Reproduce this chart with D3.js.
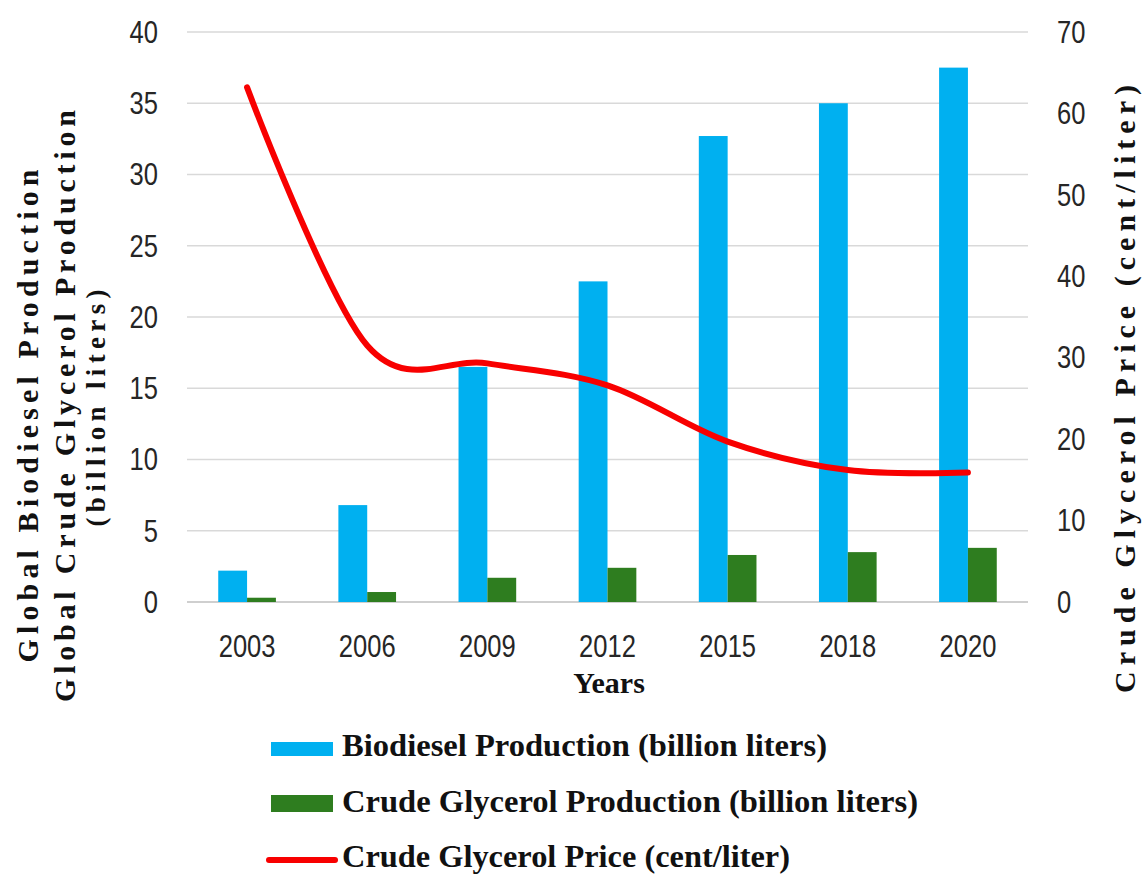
<!DOCTYPE html>
<html>
<head>
<meta charset="utf-8">
<script src="https://cdn.jsdelivr.net/npm/d3@7"></script>
<style>
  body { margin: 0; background: #fff; }
  .tick text { font-family: "Liberation Sans", "Open Sans", sans-serif; font-size: 32px; fill: #262626; }
  .serif { font-family: "Liberation Serif", "DejaVu Serif", serif; font-weight: bold; fill: #111; }
</style>
</head>
<body>
<svg id="chart" width="1146" height="876"></svg>
<script>
// Global biodiesel / crude glycerol production and crude glycerol price
const years = ["2003", "2006", "2009", "2012", "2015", "2018", "2020"];
const biodiesel = [2.2, 6.8, 16.5, 22.5, 32.7, 35.0, 37.5];   // billion liters
const glycerol  = [0.3, 0.7, 1.7, 2.4, 3.3, 3.5, 3.8];        // billion liters
const price     = [63.2, 31.5, 29.3, 26.6, 19.7, 16.2, 15.9]; // cent/liter
const leftTicks  = [0, 5, 10, 15, 20, 25, 30, 35, 40];
const rightTicks = [0, 10, 20, 30, 40, 50, 60, 70];
const legendLabels = [
  "Biodiesel Production (billion liters)",
  "Crude Glycerol Production (billion liters)",
  "Crude Glycerol Price (cent/liter)"
];
const colors = { bio: "#00b0f0", gly: "#2e7d1f", price: "#f80000" };

const svg = d3.select("#chart");
const plot = { left: 187, right: 1028, top: 32, bottom: 602 };

const x = d3.scaleBand(years, [plot.left, plot.right]).paddingInner(0.52).paddingOuter(0.26);
const sub = d3.scaleBand(["bio", "gly"], [0, x.bandwidth()]);
const yL = d3.scaleLinear([0, 40], [plot.bottom, plot.top]);
const yR = d3.scaleLinear([0, 70], [plot.bottom, plot.top]);

// narrow, tall tick digits
const narrowDigits = g => g.selectAll(".tick text")
  .attr("textLength", function () { return this.textContent.length * 14.2; })
  .attr("lengthAdjust", "spacingAndGlyphs");

// horizontal gridlines
svg.append("g").selectAll("line").data(leftTicks).join("line")
  .attr("x1", plot.left).attr("x2", plot.right)
  .attr("y1", d => yL(d)).attr("y2", d => yL(d))
  .attr("stroke", d => d === 0 ? "#bfbfbf" : "#d9d9d9")
  .attr("stroke-width", 1.6);

// axes
svg.append("g").attr("transform", `translate(${plot.left},0)`)
  .call(d3.axisLeft(yL).tickValues(leftTicks).tickSize(0).tickPadding(29))
  .call(g => g.select(".domain").remove())
  .call(narrowDigits);
svg.append("g").attr("transform", `translate(${plot.right},0)`)
  .call(d3.axisRight(yR).tickValues(rightTicks).tickSize(0).tickPadding(29))
  .call(g => g.select(".domain").remove())
  .call(narrowDigits);
svg.append("g").attr("transform", `translate(0,${plot.bottom})`)
  .call(d3.axisBottom(x).tickSize(0).tickPadding(32))
  .call(g => g.select(".domain").remove())
  .call(narrowDigits);

// bars
const groups = svg.append("g").selectAll("g").data(years).join("g")
  .attr("transform", d => `translate(${x(d)},0)`);
groups.append("rect")
  .attr("x", sub("bio")).attr("width", sub.bandwidth())
  .attr("y", (d, i) => yL(biodiesel[i]))
  .attr("height", (d, i) => yL(0) - yL(biodiesel[i]))
  .attr("fill", colors.bio);
groups.append("rect")
  .attr("x", sub("gly")).attr("width", sub.bandwidth())
  .attr("y", (d, i) => yL(glycerol[i]))
  .attr("height", (d, i) => yL(0) - yL(glycerol[i]))
  .attr("fill", colors.gly);

// smoothed price line on the right axis
const line = d3.line()
  .x((d, i) => x(years[i]) + x.bandwidth() / 2)
  .y(d => yR(d))
  .curve(d3.curveCardinal.tension(0));
svg.append("path").datum(price)
  .attr("d", line)
  .attr("fill", "none")
  .attr("stroke", colors.price)
  .attr("stroke-width", 6)
  .attr("stroke-linecap", "round")
  .attr("stroke-linejoin", "round");

// axis titles
svg.append("text").attr("class", "serif")
  .attr("x", 609).attr("y", 693).attr("text-anchor", "middle")
  .attr("font-size", 30).text("Years");

const leftTitle = [
  { text: "Global  Biodiesel Production", x: 38, cy: 416, len: 493, size: 30 },
  { text: "Global  Crude  Glycerol  Production", x: 75, cy: 406, len: 592, size: 30 },
  { text: "(billion  liters)", x: 105, cy: 408, len: 237, size: 27 }
];
leftTitle.forEach(t => {
  svg.append("text").attr("class", "serif")
    .attr("transform", `translate(${t.x},${t.cy}) rotate(-90)`)
    .attr("text-anchor", "middle")
    .attr("font-size", t.size)
    .attr("textLength", t.len).attr("lengthAdjust", "spacing")
    .text(t.text);
});
svg.append("text").attr("class", "serif")
  .attr("transform", `translate(1135,389) rotate(-90)`)
  .attr("text-anchor", "middle")
  .attr("font-size", 30)
  .attr("textLength", 608).attr("lengthAdjust", "spacing")
  .text("Crude  Glycerol  Price  (cent/liter)");

// legend
const legend = svg.append("g");
const rowY = [756, 812, 867];
const textLens = [485, 576, 448];
legend.append("rect").attr("x", 271).attr("y", rowY[0] - 14).attr("width", 62).attr("height", 14).attr("fill", colors.bio);
legend.append("rect").attr("x", 271).attr("y", rowY[1] - 17).attr("width", 62).attr("height", 17).attr("fill", colors.gly);
legend.append("line").attr("x1", 269).attr("x2", 335).attr("y1", rowY[2] - 7).attr("y2", rowY[2] - 7)
  .attr("stroke", colors.price).attr("stroke-width", 6).attr("stroke-linecap", "round");
legend.selectAll("text").data(legendLabels).join("text")
  .attr("class", "serif")
  .attr("x", 342).attr("y", (d, i) => rowY[i])
  .attr("font-size", 31)
  .attr("textLength", (d, i) => textLens[i]).attr("lengthAdjust", "spacingAndGlyphs")
  .text(d => d);
</script>
</body>
</html>
